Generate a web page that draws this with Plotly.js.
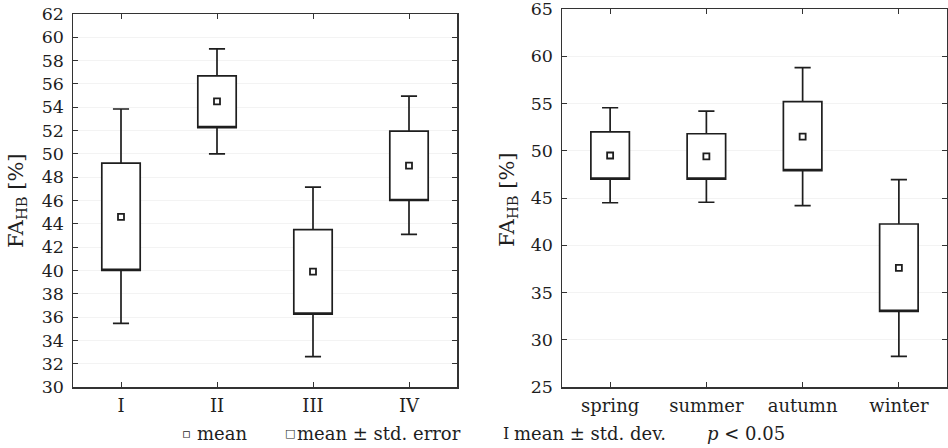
<!DOCTYPE html>
<html>
<head>
<meta charset="utf-8">
<script src="https://cdn.plot.ly/plotly-3.0.1.min.js"></script>
<style>html,body{margin:0;padding:0;background:#fff;}#chart{width:948px;height:448px;}</style>
</head>
<body>
<div id="chart"></div>
<script>
// ---- data: groups I-IV ----
const groups = ['I', 'II', 'III', 'IV'];
const groupMean = [44.6, 54.5, 39.9, 49.0];
const groupSeLow = [40.0, 52.25, 36.25, 46.0];
const groupSeHigh = [49.2, 56.7, 43.5, 51.95];
const groupSdLow = [35.45, 50.0, 32.6, 43.1];
const groupSdHigh = [53.85, 59.0, 47.15, 54.95];

// ---- data: seasons ----
const seasons = ['spring', 'summer', 'autumn', 'winter'];
const seasonMean = [49.5, 49.4, 51.5, 37.6];
const seasonSeLow = [47.0, 47.0, 47.9, 33.0];
const seasonSeHigh = [52.0, 51.8, 55.2, 42.25];
const seasonSdLow = [44.5, 44.55, 44.2, 28.25];
const seasonSdHigh = [54.55, 54.2, 58.8, 46.95];

const groupTicks = [30, 32, 34, 36, 38, 40, 42, 44, 46, 48, 50, 52, 54, 56, 58, 60, 62];
const seasonTicks = [25, 30, 35, 40, 45, 50, 55, 60, 65];

const yTitle = 'FA<sub>HB</sub> [%]';
const legendItems = [
  {sym: '\u25AB', text: 'mean'},
  {sym: '\u25A1', text: 'mean \u00B1 std. error'},
  {sym: 'I', text: 'mean \u00B1 std. dev.'}
];
const pNote = '<i>p</i> < 0.05';

const ink = '#1e1e1e';
const serif = 'DejaVu Serif, Liberation Serif, serif';

function boxTrace(x, lo, hi, sdLo, sdHi, xa, ya) {
  return {
    type: 'box', x: x, q1: lo, median: lo, q3: hi,
    lowerfence: sdLo, upperfence: sdHi,
    width: 0.4, whiskerwidth: 0.42,
    fillcolor: '#ffffff', line: {color: ink, width: 1.7},
    boxpoints: false, hoverinfo: 'skip', showlegend: false,
    xaxis: xa, yaxis: ya
  };
}
function meanTrace(x, m, xa, ya) {
  return {
    type: 'scatter', mode: 'markers', x: x, y: m,
    marker: {symbol: 'square-open', size: 6, color: ink, line: {width: 1.8, color: ink}},
    hoverinfo: 'skip', showlegend: false, xaxis: xa, yaxis: ya
  };
}

const data = [
  boxTrace(groups, groupSeLow, groupSeHigh, groupSdLow, groupSdHigh, 'x', 'y'),
  meanTrace(groups, groupMean, 'x', 'y'),
  boxTrace(seasons, seasonSeLow, seasonSeHigh, seasonSdLow, seasonSdHigh, 'x2', 'y2'),
  meanTrace(seasons, seasonMean, 'x2', 'y2')
];

const axCommon = {
  showline: true, linecolor: '#333', linewidth: 1.5, mirror: 'ticks',
  ticks: 'inside', ticklen: 5, tickwidth: 1, tickcolor: '#333',
  zeroline: false, ticklabeloverflow: 'allow',
  tickfont: {family: serif, size: 18, color: ink}
};

const W = 948, H = 448;
const px = v => v / W, py = v => (H - v) / H;

const titleFont = {family: serif, size: 21, color: ink};
const legFont = {family: serif, size: 18, color: ink};
const annotations = [
  {text: yTitle, textangle: -90, x: px(17), y: py(201), xref: 'paper', yref: 'paper',
   showarrow: false, xanchor: 'center', yanchor: 'middle', font: titleFont},
  {text: yTitle, textangle: -90, x: px(508), y: py(200), xref: 'paper', yref: 'paper',
   showarrow: false, xanchor: 'center', yanchor: 'middle', font: titleFont}
];
const symX = [180, 283, 501];
const txtX = [195, 295, 512];
const symFont = [
  {family: 'DejaVu Sans, sans-serif', size: 13, color: ink},
  {family: 'DejaVu Sans, sans-serif', size: 11, color: ink},
  {family: serif, size: 16, color: ink}
];
legendItems.forEach((it, i) => {
  annotations.push({text: it.sym, x: px(symX[i]), y: py(433), xref: 'paper', yref: 'paper',
    showarrow: false, xanchor: 'left', yanchor: 'middle', font: symFont[i]});
  annotations.push({text: it.text, x: px(txtX[i]), y: py(433), xref: 'paper', yref: 'paper',
    showarrow: false, xanchor: 'left', yanchor: 'middle', font: legFont});
});
annotations.push({text: pNote, x: px(705), y: py(433), xref: 'paper', yref: 'paper',
  showarrow: false, xanchor: 'left', yanchor: 'middle', font: legFont});

const layout = {
  width: W, height: H,
  margin: {l: 0, r: 0, t: 0, b: 0},
  paper_bgcolor: '#ffffff', plot_bgcolor: '#ffffff',
  showlegend: false,
  xaxis: Object.assign({}, axCommon, {domain: [px(73), px(457)], range: [-0.5, 3.5], anchor: 'y',
    showgrid: false, ticklabelstandoff: 2}),
  yaxis: Object.assign({}, axCommon, {domain: [py(387), py(14)], range: [30, 62], anchor: 'x',
    tickmode: 'array', tickvals: groupTicks, ticktext: groupTicks.map(String),
    showgrid: true, gridcolor: '#f3f3f3', ticklabelstandoff: 4, tickfont: {family: serif, size: 17.5, color: ink}}),
  xaxis2: Object.assign({}, axCommon, {domain: [px(562), px(947)], range: [-0.5, 3.5], anchor: 'y2',
    showgrid: false, ticklabelstandoff: 2}),
  yaxis2: Object.assign({}, axCommon, {domain: [py(387), py(9)], range: [25, 65], anchor: 'x2',
    tickmode: 'array', tickvals: seasonTicks, ticktext: seasonTicks.map(String),
    showgrid: true, gridcolor: '#f3f3f3', ticklabelstandoff: 4, tickfont: {family: serif, size: 17.5, color: ink}}),
  annotations: annotations
};

Plotly.newPlot('chart', data, layout, {staticPlot: true, displayModeBar: false});
</script>
</body>
</html>
